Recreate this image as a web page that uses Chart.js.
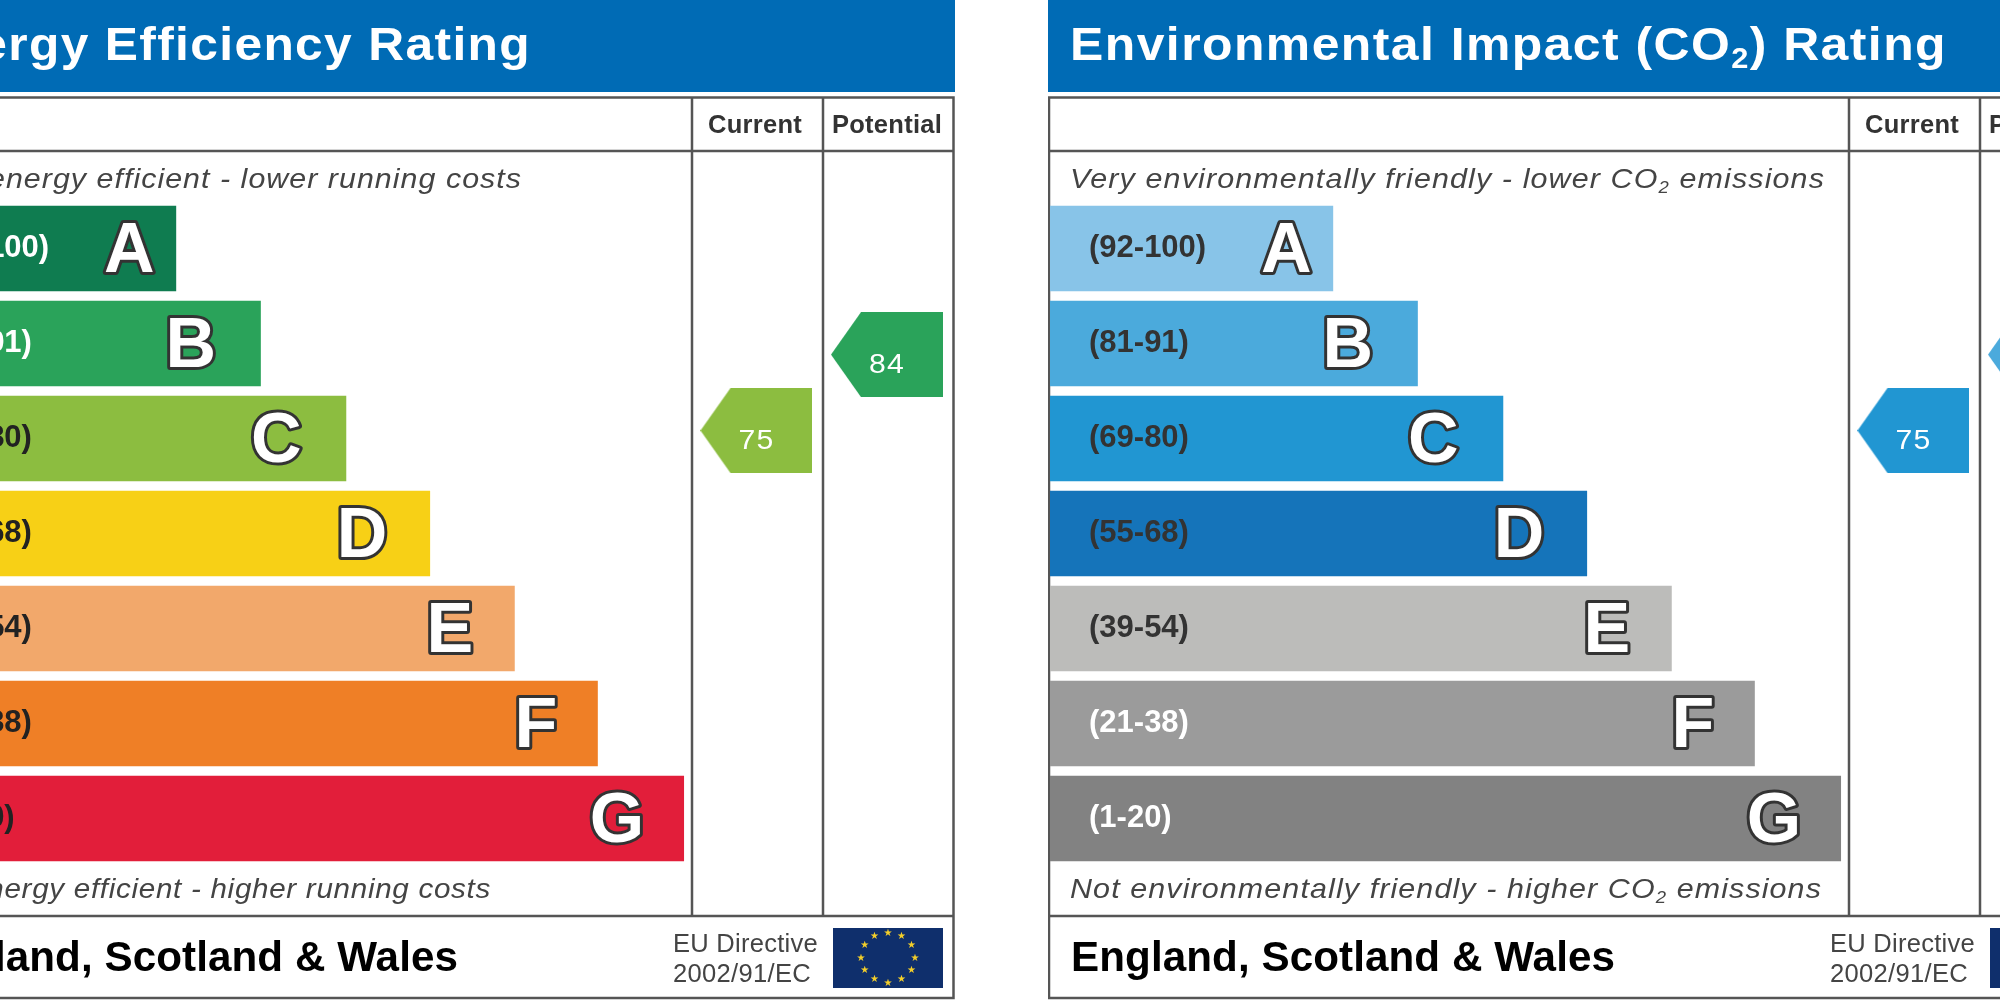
<!DOCTYPE html>
<html><head><meta charset="utf-8">
<style>
html,body{margin:0;padding:0;background:#fff;width:2000px;height:1000px;overflow:hidden;position:relative}
canvas{position:absolute;top:0;display:block;filter:blur(0.5px)}
#left{left:-109px}#right{left:1048px}
</style>
<script src="https://cdn.jsdelivr.net/npm/chart.js@4"></script>
</head><body>
<canvas id="left" width="1064" height="1000"></canvas>
<canvas id="right" width="1064" height="1000"></canvas>
<script>
const bandLetters = ['A','B','C','D','E','F','G'];
const energyRanges = ['(92-100)','(81-91)','(69-80)','(55-68)','(39-54)','(21-38)','(1-20)'];
const bandLengths = [35.8,46.5,57.3,67.9,78.6,89.1,100];
const energyRatings = [75,84];
const co2Ratings = [75,84];
const columnLabels = ['Current','Potential'];

const FONT = '"Liberation Sans", Arial, sans-serif';
const letterInset = [47,70,70,68,65,62,67];
const energyColors = ['#0f7c50','#2aa35a','#8cbd40','#f7d016','#f2a86b','#ef7f26','#e21e3a'];
const co2Colors = ['#88c4e8','#4baadc','#2196d2','#1574ba','#bcbcba','#9b9b9b','#828282'];

function pointerCanvas(color){
  const w=112,h=85,n=30,c=document.createElement('canvas');
  c.width=w;c.height=h;
  const g=c.getContext('2d');
  g.fillStyle=color;g.beginPath();
  g.moveTo(0,h/2);g.lineTo(n,0);g.lineTo(w,0);g.lineTo(w,h);g.lineTo(n,h);g.closePath();g.fill();
  return c;
}
function fit(ctx,text,x,y,style,size,width,color,align){
  const parts=text.split('₂');
  const main=style+' '+size+'px '+FONT, sub=style+' '+Math.round(size*0.62)+'px '+FONT;
  ctx.save();
  ctx.fillStyle=color;ctx.textAlign='left';ctx.textBaseline='alphabetic';
  ctx.letterSpacing='0px';
  let natural=0;
  parts.forEach((t,i)=>{
    ctx.font=main;natural+=ctx.measureText(t).width;
    if(i<parts.length-1){ctx.font=sub;natural+=ctx.measureText('2').width;}
  });
  const s=1+(width/natural-1)*0.5;
  const sp=(width/s-natural)/text.length;
  ctx.letterSpacing=sp.toFixed(3)+'px';
  ctx.translate(align==='center'?x-width/2:x,y);
  ctx.scale(s,1);
  let cx=0;
  parts.forEach((t,i)=>{
    ctx.font=main;ctx.fillText(t,cx,0);cx+=ctx.measureText(t).width;
    if(i<parts.length-1){
      ctx.font=sub;ctx.fillText('2',cx,size*0.17);cx+=ctx.measureText('2').width;
    }
  });
  ctx.restore();
}
function panelPlugin(p){
  return {
    id:'panel',
    beforeDatasetsDraw(chart){
      const c=chart.ctx;
      c.save();
      c.fillStyle='#006bb5';c.fillRect(0,0,1064,92);
      c.strokeStyle='#555';c.lineWidth=2.5;
      c.strokeRect(1,97.5,1061.5,900.5);
      c.beginPath();
      c.moveTo(1,151);c.lineTo(1062,151);
      c.moveTo(1,916);c.lineTo(1062,916);
      c.moveTo(801,97);c.lineTo(801,916);
      c.moveTo(932,97);c.lineTo(932,916);
      c.stroke();
      c.restore();
      fit(c,p.title,22,60,'bold',47,p.titleWidth,'#fff');
      fit(c,columnLabels[0],864,133,'bold',25,94,'#333','center');
      fit(c,columnLabels[1],996,133,'bold',25,110,'#333','center');
      fit(c,p.topNote,22,188,'italic',28,p.topWidth,'#444');
      fit(c,p.bottomNote,22,898,'italic',28,p.bottomWidth,'#444');
      fit(c,'England, Scotland & Wales',23,971,'bold',42,544,'#000');
      fit(c,'EU Directive',782,952,'normal',25,145,'#444');
      fit(c,'2002/91/EC',782,982,'normal',25,138,'#444');
      c.save();
      c.fillStyle='#0f2f6c';c.fillRect(942,928,110,60);
      c.fillStyle='#f4cf2a';
      c.textAlign='center';c.textBaseline='middle';c.font='10px "DejaVu Sans"';
      for(let i=0;i<12;i++){
        const a=i*Math.PI/6;
        c.fillText('★',997+27*Math.sin(a),958-25*Math.cos(a));
      }
      c.restore();
    },
    afterDatasetsDraw(chart){
      const c=chart.ctx,bars=chart.getDatasetMeta(0).data,pts=chart.getDatasetMeta(1).data;
      c.save();
      c.font='bold 70px '+FONT;c.textAlign='center';c.textBaseline='alphabetic';c.lineJoin='round';
      bars.forEach((b,i)=>{
        const x=b.x-letterInset[i],y=b.y+23;
        c.lineWidth=6;c.strokeStyle='#333';c.strokeText(bandLetters[i],x,y);
        c.fillStyle='#fff';c.fillText(bandLetters[i],x,y);
      });
      c.restore();
      pts.forEach((pt,i)=>{
        fit(c,String(p.ratings[i]),pt.x,pt.y+18,'normal',28,36,'#fff','center');
      });
    }
  };
}
function build(id,p){
  new Chart(document.getElementById(id),{
    type:'bar',
    data:{labels:energyRanges,datasets:[
      {type:'bar',indexAxis:'y',grouped:false,data:bandLengths,backgroundColor:p.colors,borderWidth:0,
       barPercentage:0.9,categoryPercentage:1,xAxisID:'x',yAxisID:'y',order:2},
      {type:'scatter',data:[{x:0,y:p.ratings[0]},{x:1,y:p.ratings[1]}],xAxisID:'xp',yAxisID:'yp',clip:false,order:1,
       pointStyle:[pointerCanvas(p.colors[2]),pointerCanvas(p.colors[1])]}
    ]},
    options:{
      indexAxis:'y',responsive:false,animation:false,devicePixelRatio:1,
      events:[],
      layout:{autoPadding:false,padding:{left:2,right:2,top:201,bottom:134}},
      plugins:{legend:{display:false},tooltip:{enabled:false},title:{display:false}},
      scales:{
        x:{type:'linear',axis:'x',min:0,max:134,offset:false,display:false},
        y:{type:'category',axis:'y',position:'left',offset:true,
           afterFit:s=>{s.width=0;},
           grid:{display:false,drawTicks:false},border:{display:false},
           ticks:{mirror:true,padding:39,autoSkip:false,z:1,
             color:c=>p.rangeColors[c.index],
             font:{family:'"Liberation Sans"',size:31,weight:'bold'}}},
        xp:{type:'linear',axis:'x',min:-6.617,max:1.506,offset:false,display:false},
        yp:{type:'linear',axis:'y',min:23.4,max:102.2,offset:false,display:false}
      }
    },
    plugins:[panelPlugin(p)]
  });
}
build('left',{title:'Energy Efficiency Rating',titleWidth:618,
  topNote:'Very energy efficient - lower running costs',topWidth:609,
  bottomNote:'Not energy efficient - higher running costs',bottomWidth:578,
  colors:energyColors,ratings:energyRatings,
  rangeColors:['#fff','#fff','#222','#222','#222','#222','#222']});
build('right',{title:'Environmental Impact (CO₂) Rating',titleWidth:877,
  topNote:'Very environmentally friendly - lower CO₂ emissions',topWidth:755,
  bottomNote:'Not environmentally friendly - higher CO₂ emissions',bottomWidth:752,
  colors:co2Colors,ratings:co2Ratings,
  rangeColors:['#333','#333','#333','#333','#333','#fff','#fff']});
</script>
</body></html>
